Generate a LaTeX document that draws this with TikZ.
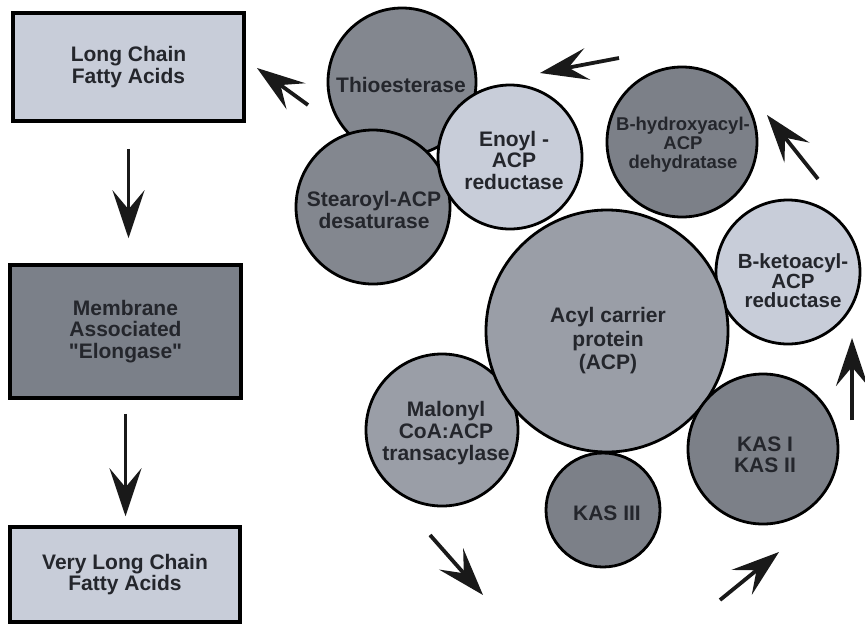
\documentclass[tikz,border=0pt]{standalone}
\usepackage{fontspec}
\setmainfont{Liberation Sans}[Ligatures=TeXOff]
\usetikzlibrary{arrows.meta}
\definecolor{lightc}{HTML}{C8CDD9}
\definecolor{membc}{HTML}{7B8089}
\definecolor{medc}{HTML}{9A9EA7}
\definecolor{darka}{HTML}{83878F}
\definecolor{darkb}{HTML}{7C8088}
\definecolor{txtc}{HTML}{24262C}
\begin{document}
\begin{tikzpicture}[x=1pt,y=-1pt,
  box/.style={rectangle, draw=black, line width=3.5pt, inner sep=0pt,
    text=txtc, font=\bfseries\fontsize{21}{21.5}\selectfont, align=center},
  circ/.style={circle, draw=black, line width=2.8pt, inner sep=0pt},
  lbl/.style={text=txtc, font=\bfseries\fontsize{21}{21.5}\selectfont, align=center, inner sep=0pt},
  arr/.style={line width=3.8pt, draw=black!90, -{Stealth[length=48pt,width=32pt,inset=19pt]}}]
\useasboundingbox (0,0) rectangle (865,633);
\fill[white] (0,0) rectangle (865,633);

% left column boxes
\node[box, fill=lightc, minimum width=231pt, minimum height=108pt] (lc) at (128.5,67) {Long Chain\\Fatty Acids};
\node[box, fill=membc, minimum width=231pt, minimum height=133pt] (mem) at (125.5,331.5) {Membrane\\Associated\\"Elongase"};
\node[box, fill=lightc, minimum width=230pt, minimum height=95pt] (vl) at (125,574.5) {Very Long Chain\\Fatty Acids};

\draw[arr, shorten <=26pt, shorten >=25pt] (lc.south) -- (lc.south |- mem.north);
\draw[arr, shorten <=14pt, shorten >=9pt] (mem.south) -- (mem.south |- vl.north);

% circles
\node[circ, fill=darka, minimum size=148pt] (thio) at (402,82) {};
\node[circ, fill=darka, minimum size=154pt] (stear) at (373,207) {};
\node[circ, fill=lightc, minimum size=144pt] (enoyl) at (510,157) {};
\node[circ, fill=darkb, minimum size=150pt] (bhyd) at (682,142) {};
\node[circ, fill=lightc, minimum size=144pt] (bket) at (788,272) {};
\node[circ, fill=medc, minimum size=152pt] (mal) at (442,430) {};
\node[circ, fill=medc, minimum size=242pt] (acp) at (607,331) {};
\node[circ, fill=darkb, minimum size=114pt] (kas3) at (603,510) {};
\node[circ, fill=darkb, minimum size=150pt] (kas12) at (763,449) {};

% labels
\node[lbl] (thiol) at (401,85) {Thioesterase};
\node[lbl] (stearl) at (374,210) {Stearoyl-ACP\\desaturase};
\node[lbl] (enoyll) at (514,160) {Enoyl -\\ACP\\reductase};
\node[lbl, font=\bfseries\fontsize{18.5}{19}\selectfont] (bhydl) at (683,145) {B-hydroxyacyl-\\ACP\\dehydratase};
\node[lbl, font=\bfseries\fontsize{20.5}{19.5}\selectfont] (bketl) at (793,281) {B-ketoacyl-\\ACP\\reductase};
\node[lbl, font=\bfseries\fontsize{21}{23.5}\selectfont] (acpl) at (608,341) {Acyl carrier\\protein\\(ACP)};
\node[lbl, font=\bfseries\fontsize{21}{22}\selectfont] (mall) at (446,433) {Malonyl\\CoA:ACP\\transacylase};
\node[lbl] (kas3l) at (607,513) {KAS III};
\node[lbl] (kas12l) at (765,455) {KAS I\\KAS II};

% cycle arrows
\coordinate (t1) at (308,105); \coordinate (h1) at (257,68);
\coordinate (t2) at (619,58);  \coordinate (h2) at (540,73);
\coordinate (t3) at (818,179); \coordinate (h3) at (767,115);
\coordinate (t4) at (852,420); \coordinate (h4) at (852,338);
\coordinate (t5) at (720,600); \coordinate (h5) at (779,552);
\coordinate (t6) at (430,535); \coordinate (h6) at (483,595);
\draw[arr] (t1) -- (h1);
\draw[arr] (t2) -- (h2);
\draw[arr] (t3) -- (h3);
\draw[arr] (t4) -- (h4);
\draw[arr] (t5) -- (h5);
\draw[arr] (t6) -- (h6);
\end{tikzpicture}
\end{document}
